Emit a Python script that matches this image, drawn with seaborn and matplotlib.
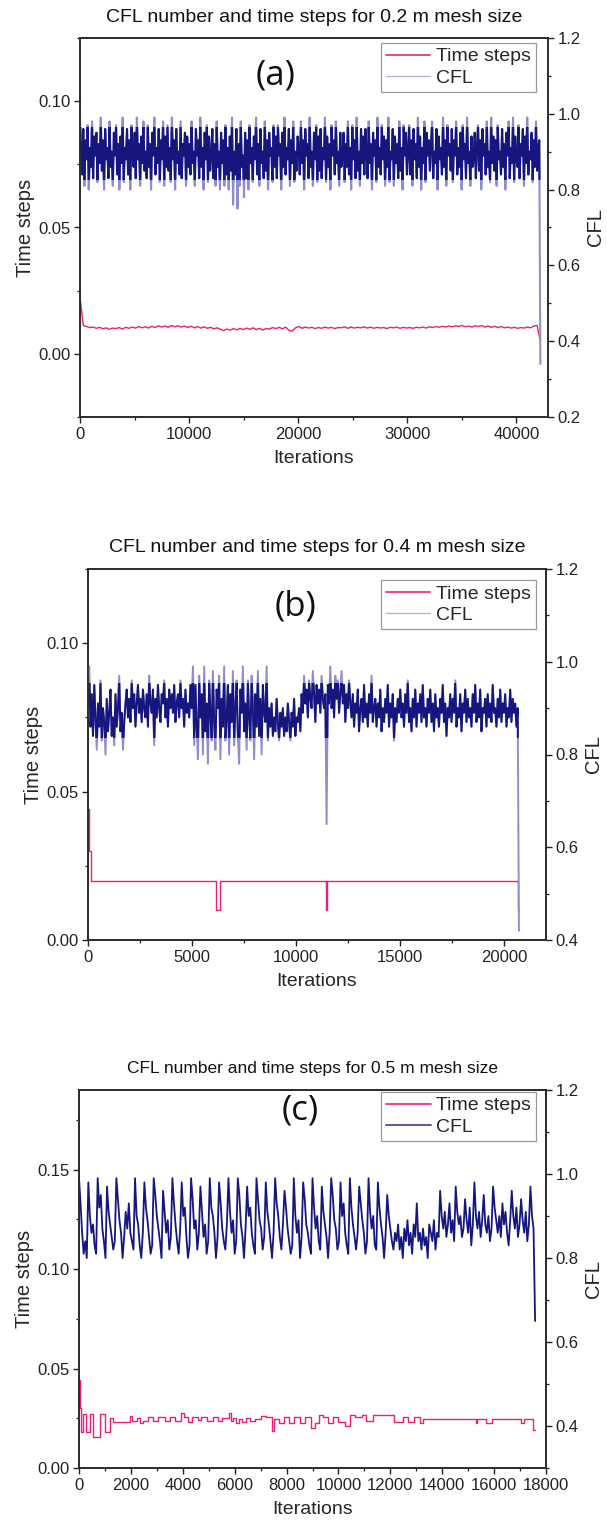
import numpy as np
import matplotlib
matplotlib.use("Agg")
import matplotlib.pyplot as plt
from matplotlib.ticker import MultipleLocator, FormatStrFormatter
from matplotlib.lines import Line2D
from matplotlib.patches import Rectangle
import seaborn as sns

# ---------------- data ----------------
# Panel (a): 0.2 m mesh, iterations 0..42200
a_iter_end = 42200
a_cfl = [
 .99,.90,.84,.96,.81,.93,.88,.97,.80,.91,.86,.98,.83,.94,.89,.95,.82,.92,.87,.99,
 .85,.93,.80,.96,.88,.91,.83,.98,.86,.90,.81,.95,.89,.97,.84,.92,.80,.94,.87,.99,
 .82,.91,.88,.96,.84,.93,.80,.97,.90,.86,.95,.83,.99,.88,.92,.81,.94,.87,.98,.85,
 .90,.83,.97,.86,.92,.80,.95,.89,.99,.84,.91,.87,.96,.82,.93,.88,.98,.81,.94,.86,
 .97,.85,.91,.82,.99,.88,.93,.80,.96,.87,.90,.84,.98,.83,.92,.89,.95,.81,.94,.86,
 .92,.84,.98,.87,.90,.81,.96,.89,.93,.83,.99,.86,.91,.80,.95,.88,.97,.82,.94,.85,
 .89,.96,.83,.92,.81,.98,.86,.90,.80,.95,.87,.93,.81,.97,.84,.91,.80,.94,.85,.99,
 .76,.90,.84,.96,.75,.92,.81,.98,.86,.89,.78,.95,.83,.93,.80,.97,.87,.91,.82,.94,
 .88,.99,.84,.92,.81,.96,.87,.90,.83,.98,.85,.93,.80,.95,.89,.91,.82,.97,.86,.94,
 .83,.97,.89,.92,.80,.95,.86,.99,.84,.91,.88,.96,.81,.93,.87,.98,.82,.90,.85,.94,
 .91,.84,.98,.87,.93,.80,.96,.89,.92,.83,.99,.86,.90,.81,.95,.88,.97,.82,.94,.85,
 .96,.83,.91,.88,.99,.82,.94,.86,.92,.80,.97,.89,.93,.84,.98,.87,.90,.81,.95,.86,
 .89,.95,.82,.92,.86,.98,.84,.91,.80,.97,.88,.93,.83,.99,.85,.90,.81,.96,.87,.94,
 .84,.96,.90,.83,.98,.87,.92,.80,.95,.89,.93,.82,.99,.86,.91,.84,.97,.88,.94,.81,
 .93,.86,.99,.82,.90,.88,.96,.81,.94,.87,.92,.83,.98,.85,.91,.80,.97,.89,.95,.84,
 .90,.97,.84,.93,.81,.96,.88,.92,.83,.99,.86,.94,.80,.91,.87,.98,.82,.95,.89,.93,
 .85,.92,.98,.83,.90,.87,.96,.80,.94,.88,.91,.84,.99,.86,.93,.81,.97,.89,.92,.85,
 .96,.82,.93,.89,.98,.84,.91,.86,.95,.80,.97,.88,.92,.83,.99,.87,.90,.81,.94,.86,
 .88,.95,.83,.91,.97,.85,.93,.80,.96,.89,.92,.84,.98,.86,.90,.82,.99,.87,.94,.85,
 .93,.81,.97,.88,.90,.84,.96,.86,.92,.80,.95,.89,.98,.83,.91,.87,.99,.82,.94,.88,
 .86,.97,.83,.92,.89,.96,.81,.94,.87,.99,.84,.90,.88,.95,.82,.93,.86,.98,.85,.91,
 .93,.34]
a_ts = [
 .0225,.0112,.0108,.0104,.0106,.0101,.0105,.0099,.0103,.0097,.0102,
 .0100,.0104,.0098,.0105,.0101,.0106,.0102,.0108,.0103,.0107,
 .0102,.0109,.0104,.0111,.0106,.0110,.0105,.0112,.0107,.0111,
 .0106,.0110,.0104,.0109,.0103,.0108,.0102,.0107,.0101,.0105,
 .0099,.0103,.0097,.0092,.0098,.0094,.0100,.0095,.0101,.0096,
 .0102,.0097,.0103,.0096,.0101,.0094,.0100,.0098,.0104,.0100,
 .0105,.0099,.0106,.0093,.0090,.0103,.0108,.0101,.0106,.0102,
 .0105,.0100,.0104,.0101,.0106,.0102,.0105,.0100,.0104,.0103,
 .0107,.0101,.0106,.0102,.0105,.0103,.0107,.0102,.0106,.0101,
 .0105,.0102,.0104,.0100,.0105,.0103,.0106,.0101,.0105,.0102,
 .0104,.0101,.0105,.0103,.0106,.0102,.0107,.0104,.0108,.0105,
 .0109,.0106,.0110,.0107,.0111,.0108,.0112,.0107,.0110,.0106,
 .0111,.0108,.0112,.0106,.0110,.0105,.0109,.0104,.0108,.0103,
 .0106,.0102,.0105,.0101,.0104,.0102,.0106,.0103,.0110,.0112,
 .0050]

# Panel (b): 0.4 m mesh, iterations 0..20700
b_iter_end = 20700
b_cfl = [
 .97,.99,.86,.93,.84,.95,.88,.81,.91,.86,.96,.83,.90,.87,.80,.92,.85,.89,.94,.84,
 .88,.82,.93,.86,.90,.97,.85,.89,.81,.87,.91,.94,.88,.92,.87,.96,.90,.93,.86,.91,
 .95,.89,.92,.87,.94,.90,.88,.93,.86,.97,.91,.89,.94,.82,.92,.88,.95,.90,.87,.93,
 .91,.96,.88,.92,.86,.94,.90,.93,.89,.95,.87,.91,.93,.88,.96,.90,.92,.86,.94,.89,
 .91,.88,.95,.90,
 .99,.82,.95,.86,.79,.97,.88,.93,.80,.99,.85,.91,.78,.96,.89,.83,.98,.87,.81,.94,
 .90,.97,.79,.92,.86,.99,.83,.88,.95,.80,.93,.87,.98,.82,.90,.96,.84,.78,.94,.89,
 .99,.85,.91,.81,.96,.88,.83,.97,.90,.79,.93,.86,.98,.84,.92,.80,.95,.89,.87,.99,.83,.90,
 .86,.91,.84,.88,.85,.92,.87,.83,.89,.86,.90,.84,.88,.85,.91,.87,.83,.89,.86,.92,.84,.88,.87,.90,.85,
 .93,.89,.97,.91,.94,.88,.96,.92,.90,.98,.93,.87,.95,.91,.94,.89,.97,.92,.90,.93,
 .65,
 .95,.91,.99,.90,.94,.88,.97,.92,.96,.89,.93,.98,.91,.95,.87,.93,.90,.96,.91,
 .88,.93,.86,.91,.89,.94,.85,.90,.92,.87,.95,.88,.91,.86,.93,.89,.97,.87,.90,.92,
 .86,.91,.88,.94,.85,.90,.87,.92,.89,.95,.86,.91,.88,.93,.83,.90,.87,.92,.89,.94,
 .88,.91,.86,.93,.89,.96,.87,.90,.85,.92,.88,.94,.86,.91,.89,.93,.87,.95,.88,.90,
 .86,.92,.89,.94,.87,.91,.85,.93,.88,.90,.86,.92,.89,.95,.87,.91,.84,.90,.88,.93,
 .87,.92,.89,.96,.86,.90,.88,.93,.85,.91,.89,.94,.87,.92,.88,.90,.86,.93,.89,.95,
 .87,.91,.88,.94,.85,.90,.89,.92,.86,.93,.88,.91,.87,.95,.89,.90,.86,.92,.88,.94,
 .87,.91,.89,.93,.86,.90,.88,.94,.87,.92,.89,.91,.86,.90,
 .42]
b_ts_iter = [0, 40, 150, 6150, 6320, 11430, 11490, 20640, 20700]
b_ts = [0.044, 0.030, 0.020, 0.010, 0.020, 0.010, 0.020, 0.010, 0.010]

# Panel (c): 0.5 m mesh, iterations 0..17580
c_iter_end = 17580
c_cfl = [
 .99,.93,.86,.81,.84,.80,.98,.90,.86,.88,.83,.81,.99,.92,.95,.87,.84,.80,.97,.91,.88,.85,.82,.84,.99,.94,.89,.86,.80,.85,
 .91,.87,.93,.86,.84,.82,.99,.90,.88,.83,.80,.86,.98,.92,.89,.85,.81,.83,.99,.95,.90,.87,.84,.80,.96,.91,.86,.89,.82,.85,
 .99,.93,.88,.84,.81,.87,.98,.90,.92,.85,.80,.83,.99,.94,.87,.89,.82,.86,.97,.91,.85,.88,.81,.84,.99,.92,.90,.86,.80,.85,
 .98,.93,.87,.84,.82,.88,.99,.91,.86,.89,.81,.84,.99,.95,.88,.85,.80,.87,.97,.90,.92,.86,.83,.81,.99,.94,.89,.87,.82,.85,
 .98,.91,.88,.84,.80,.86,.99,.93,.90,.85,.82,.88,.96,.92,.87,.84,.81,.83,.99,.90,.86,.89,.80,.85,.98,.94,.88,.86,.83,.81,
 .99,.92,.87,.90,.84,.82,.97,.91,.88,.85,.80,.86,.99,.95,.89,.87,.82,.84,.98,.90,.93,.86,.83,.81,.99,.92,.88,.85,.82,.86,
 .97,.93,.89,.86,.81,.84,.99,.91,.87,.90,.83,.82,.98,.92,.88,.85,.80,.86,.95,.90,.87,.84,.82,
 .86,.84,.88,.82,.85,.80,.87,.84,.89,.83,.86,.81,.88,.85,.93,.84,.86,.82,.87,.83,.85,.80,.88,.86,.84,.89,.82,.86,.85,
 .96,.90,.87,.91,.85,.88,.93,.86,.89,.84,.97,.91,.88,.90,.85,.87,.94,.89,.86,.92,
 .83,.88,.98,.90,.87,.91,.85,.89,.95,.88,.86,.90,.84,.87,.97,.92,.89,.86,.90,.85,
 .93,.88,.91,.86,.83,.89,.96,.90,.87,.92,.85,.88,.94,.89,.86,.91,.84,.88,.97,.90,.87,
 .65]
c_ts_iter = [0, 40, 88, 150, 280, 410, 535, 795, 987, 1180, 1300, 1950, 2050, 2250,
             2350, 2450, 2650, 2850, 3050, 3300, 3500, 3700, 3950, 4050, 4200,
             4350, 4600, 4700, 4950, 5150, 5350, 5500, 5800, 5870, 5950, 6050,
             6150, 6300, 6450, 6600, 6800, 7000, 7200, 7450, 7500, 7700, 7900,
             8100, 8300, 8500, 8700, 8950, 9100, 9250, 9400, 9600, 9800, 10000,
             10250, 10450, 10650, 10900, 11050, 11350, 12150, 12500, 12700,
             12900, 13150, 13250, 15300, 15350, 15700, 15900, 17050, 17150,
             17500, 17580]
c_ts = [0.044, 0.030, 0.018, 0.027, 0.018, 0.027, 0.0157, 0.027, 0.018, 0.025,
        0.0233, 0.026, 0.0235, 0.025, 0.0225, 0.0235, 0.0255, 0.0235, 0.0255,
        0.0235, 0.0255, 0.0235, 0.0275, 0.0255, 0.023, 0.0255, 0.024, 0.0255,
        0.0235, 0.0255, 0.0235, 0.025, 0.0275, 0.0235, 0.025, 0.0225, 0.0245,
        0.023, 0.025, 0.0235, 0.0245, 0.026, 0.0255, 0.0185, 0.0245, 0.0228,
        0.0255, 0.0228, 0.0255, 0.0228, 0.0255, 0.020, 0.0228, 0.0265, 0.0255,
        0.0228, 0.0255, 0.023, 0.021, 0.0265, 0.0255, 0.0267, 0.0237, 0.0267,
        0.0233, 0.0255, 0.0233, 0.0255, 0.0228, 0.0248, 0.0228, 0.0248, 0.0228,
        0.0248, 0.0225, 0.0248, 0.019, 0.019]

titles = ["CFL number and time steps for 0.2 m mesh size",
          "CFL number and time steps for 0.4 m mesh size",
          "CFL number and time steps for 0.5 m mesh size"]
letters = ["(a)", "(b)", "(c)"]
series_names = ["Time steps", "CFL"]

# ---------------- style ----------------
sns.set_style("white")
plt.rcParams["font.family"] = ["Liberation Sans", "DejaVu Sans"]
plt.rcParams.update({
    "xtick.bottom": True, "ytick.left": True, "ytick.right": False,
    "xtick.direction": "out", "ytick.direction": "out",
    "xtick.major.size": 4, "ytick.major.size": 4,
    "xtick.minor.size": 2.5, "ytick.minor.size": 2.5,
    "xtick.major.width": 1.0, "ytick.major.width": 1.0,
    "xtick.minor.width": 0.9, "ytick.minor.width": 0.9,
    "xtick.color": "#222222", "ytick.color": "#222222",
    "axes.edgecolor": "#2a2a2a", "axes.linewidth": 1.2,
    "xtick.labelsize": 12, "ytick.labelsize": 12,
})

PINK = "#ec1f78"
NAVY = "#16167f"
LAVENDER = "#8e8ecc"
W, H = 607, 1529
fig = plt.figure(figsize=(W / 100, H / 100), dpi=100)


def rect(l, r, t, b):
    return [l / W, 1 - b / H, (r - l) / W, (b - t) / H]


def panel(box, title_y, title_size, title, letter, letter_xy, letter_size,
          ts_x, ts_y, steps, cfl_x, cfl_y, cfl_lw, core, leg_color, leg_lw,
          xlim, xmaj, xmin, ylim_l, ylim_r, leg_anchor):
    ax = fig.add_axes(rect(*box))
    ax2 = ax.twinx()
    sns.lineplot(x=ts_x, y=ts_y, ax=ax, color=PINK, lw=1.0, estimator=None,
                 sort=False, legend=False,
                 drawstyle="steps-post" if steps else "default")
    if core is not None:
        # light fringe for the sparse spikes, dark core where the trace is dense
        sns.lineplot(x=cfl_x, y=cfl_y, ax=ax2, color=LAVENDER, lw=cfl_lw,
                     estimator=None, sort=False, legend=False)
        sns.lineplot(x=cfl_x, y=cfl_y, ax=ax2, color=NAVY, lw=cfl_lw,
                     estimator=None, sort=False, legend=False)
        clip = Rectangle((xlim[0], core[0]), xlim[1] - xlim[0],
                         core[1] - core[0], transform=ax2.transData)
        ax2.get_lines()[-1].set_clip_path(clip)
    else:
        sns.lineplot(x=cfl_x, y=cfl_y, ax=ax2, color=NAVY, lw=cfl_lw,
                     estimator=None, sort=False, legend=False)
    ax.set_xlim(*xlim)
    ax.set_ylim(*ylim_l)
    ax2.set_ylim(*ylim_r)
    ax.xaxis.set_major_locator(MultipleLocator(xmaj))
    ax.xaxis.set_minor_locator(MultipleLocator(xmin))
    ax.yaxis.set_major_locator(MultipleLocator(0.05))
    ax.yaxis.set_minor_locator(MultipleLocator(0.025))
    ax.yaxis.set_major_formatter(FormatStrFormatter("%.2f"))
    ax2.yaxis.set_major_locator(MultipleLocator(0.2))
    ax2.yaxis.set_minor_locator(MultipleLocator(0.1))
    ax2.yaxis.set_major_formatter(FormatStrFormatter("%.1f"))
    ax.tick_params(axis="x", which="both", bottom=True, top=False, pad=3)
    ax.tick_params(axis="y", which="both", left=True, right=False, pad=3)
    ax2.tick_params(axis="y", which="both", right=True, left=False, pad=3,
                    direction="out")
    ax.set_xlabel("Iterations", fontsize=14, labelpad=6)
    ax.set_ylabel("Time steps", fontsize=14.5, labelpad=2)
    ax2.set_ylabel("CFL", fontsize=14.5, labelpad=4)
    for a in (ax, ax2):
        for s in a.spines.values():
            s.set_linewidth(1.2)
            s.set_color("#2a2a2a")
    cx = (box[0] + box[1]) / 2 / W
    fig.text(cx, 1 - title_y / H, title, ha="center", va="center",
             fontsize=title_size, color="#111111")
    ax.text(letter_xy[0], letter_xy[1], letter, transform=ax.transAxes,
            ha="center", va="center", fontsize=letter_size,
            family=["Open Sans", "DejaVu Sans"], color="#111111")
    h1 = Line2D([], [], color=PINK, lw=1.2)
    h2 = Line2D([], [], color=leg_color, lw=leg_lw)
    leg = ax2.legend([h1, h2], series_names, loc="upper right",
                     bbox_to_anchor=leg_anchor, bbox_transform=ax.transAxes,
                     fontsize=14, frameon=True, fancybox=False,
                     edgecolor="#999999", framealpha=1, borderaxespad=0,
                     handlelength=2.3, handletextpad=0.3, borderpad=0.25,
                     labelspacing=0.2)
    leg.get_frame().set_linewidth(0.9)
    return ax, ax2


# (a)
panel((80, 548, 38, 417), 18, 14, titles[0], letters[0], (0.417, 0.902), 25,
      np.linspace(0, a_iter_end, len(a_ts)), a_ts, False,
      np.linspace(0, a_iter_end, len(a_cfl)), a_cfl, 1.5, (0.825, 0.965),
      "#b4b4dc", 1.0,
      (0, 42900), 10000, 5000, (-0.025, 0.125), (0.2, 1.2), (0.974, 0.987))

# (b)
panel((88, 546, 569, 940), 548, 14, titles[1], letters[1], (0.454, 0.898), 25,
      b_ts_iter, b_ts, True,
      np.linspace(0, b_iter_end, len(b_cfl)), b_cfl, 1.4, (0.835, 0.955),
      "#b4b4dc", 1.0,
      (0, 22000), 5000, 2500, (0, 0.125), (0.4, 1.2), (0.978, 0.970))

# (c)
panel((79, 546, 1090, 1468), 1069, 12.5, titles[2], letters[2], (0.473, 0.947), 25,
      c_ts_iter, c_ts, True,
      np.linspace(0, c_iter_end, len(c_cfl)), c_cfl, 1.3, None,
      "#4a4a9c", 1.3,
      (0, 18000), 2000, 1000, (0, 0.19), (0.3, 1.2), (0.979, 0.995))

fig.savefig("out.png", dpi=100)
